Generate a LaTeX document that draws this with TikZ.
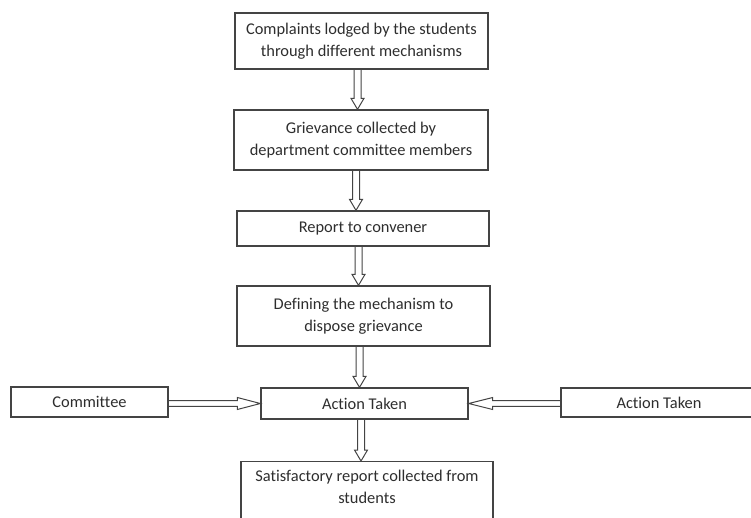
\documentclass[tikz,border=0pt]{standalone}
\usepackage{fontspec}
\setmainfont{Carlito}[RawFeature=-liga]
\usetikzlibrary{calc}

\definecolor{inkline}{HTML}{444444}
\definecolor{inktext}{HTML}{2E2E2E}

% hollow block arrow pointing down, between two stacked boxes, at a given column x
\newcommand\flowdown[3]{%
  \draw[flowarrow] let \p1=(#1.south), \p2=(#2.north) in
    (#3pt-3.5pt,\y1) -- (#3pt-3.5pt,\y2+11pt) -- (#3pt-6.5pt,\y2+11pt) --
    (#3pt,\y2) -- (#3pt+6.5pt,\y2+11pt) -- (#3pt+3.5pt,\y2+11pt) -- (#3pt+3.5pt,\y1);}
% hollow block arrow pointing right, from #1 to #2
\newcommand\flowright[2]{%
  \draw[flowarrow] let \p1=(#1.east), \p2=(#2.west) in
    (\x1,\y2+2.8pt) -- (\x2-23pt,\y2+2.8pt) -- (\x2-23pt,\y2+6pt) --
    (\x2,\y2) -- (\x2-23pt,\y2-6pt) -- (\x2-23pt,\y2-2.8pt) -- (\x1,\y2-2.8pt);}
% hollow block arrow pointing left, from #1 to #2
\newcommand\flowleft[2]{%
  \draw[flowarrow] let \p1=(#1.west), \p2=(#2.east) in
    (\x1,\y2+2.8pt) -- (\x2+24pt,\y2+2.8pt) -- (\x2+24pt,\y2+6pt) --
    (\x2,\y2) -- (\x2+24pt,\y2-6pt) -- (\x2+24pt,\y2-2.8pt) -- (\x1,\y2-2.8pt);}

\begin{document}
\begin{tikzpicture}[x=1pt,y=-1pt,
  stepbox/.style={draw=inkline, line width=1.3pt, fill=white, text=inktext,
    align=center, inner sep=0pt,
    font=\fontsize{16.4}{22}\selectfont},
  flowarrow/.style={draw=inkline, line width=1pt, line join=miter}]
\useasboundingbox (0,0) rectangle (751,517);
\clip (0,0) rectangle (751,517);

\node[stepbox, minimum width=253pt, minimum height=56pt] (complaints) at (361.5,41)
  {Complaints lodged by the students\\through different mechanisms};
\node[stepbox, minimum width=254pt, minimum height=60pt] (grievance) at (361,140)
  {Grievance collected by\\department committee members};
\node[stepbox, minimum width=252pt, minimum height=35pt] (report) at (363,228.5)
  {Report to convener};
\node[stepbox, minimum width=253pt, minimum height=60pt] (defining) at (363.5,316)
  {Defining the mechanism to\\dispose grievance};
\node[stepbox, minimum width=207pt, minimum height=31pt] (action) at (364.5,403.5)
  {Action Taken};
\node[stepbox, minimum width=157pt, minimum height=30pt] (committee) at (89.5,402)
  {Committee};
\node[stepbox, minimum width=196pt, minimum height=29pt] (actionright) at (659,402.5)
  {Action Taken};
\node[stepbox, minimum width=252pt, anchor=north, inner ysep=8pt, text depth=60pt]
  (satisfactory) at (367,461)
  {Satisfactory report collected from\\students};

\flowdown{complaints}{grievance}{357.5}
\flowdown{grievance}{report}{356}
\flowdown{report}{defining}{358.5}
\flowdown{defining}{action}{359.5}
\flowdown{action}{satisfactory}{361}
\flowright{committee}{action}
\flowleft{actionright}{action}
\end{tikzpicture}
\end{document}
